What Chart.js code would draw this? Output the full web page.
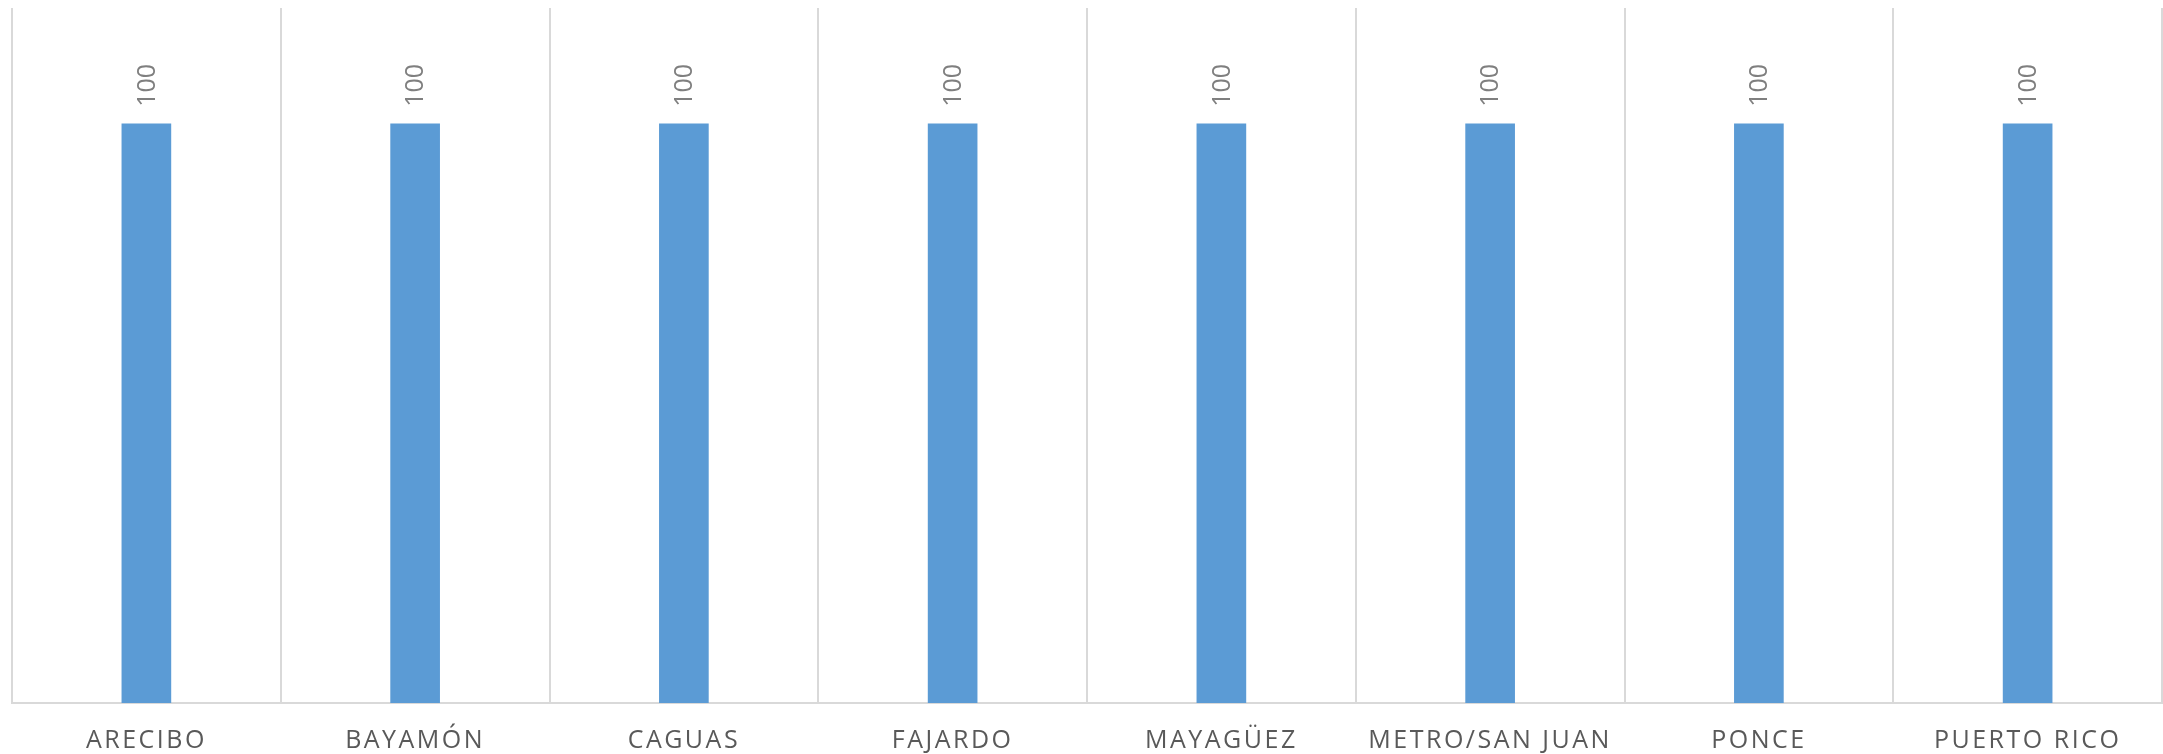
<!DOCTYPE html>
<html>
<head>
<meta charset="utf-8">
<script src="https://cdn.jsdelivr.net/npm/chart.js@4/dist/chart.umd.min.js"></script>
<style>
  html, body { margin: 0; padding: 0; background: #ffffff; }
  #wrap { width: 2163px; height: 754px; position: relative; }
</style>
</head>
<body>
<div id="wrap"><canvas id="c"></canvas></div>
<script>
const categories = ["ARECIBO", "BAYAMÓN", "CAGUAS", "FAJARDO", "MAYAGÜEZ", "METRO/SAN JUAN", "PONCE", "PUERTO RICO"];
const values = [100, 100, 100, 100, 100, 100, 100, 100];
const yMin = 0;
const yMax = 120;

const labelSpacingPlugin = {
  id: 'labelSpacing',
  beforeDraw(chart) {
    chart.ctx.letterSpacing = '2.5px';
  }
};

const valueLabelPlugin = {
  id: 'valueLabels',
  afterDatasetsDraw(chart) {
    const ctx = chart.ctx;
    chart.data.datasets.forEach((ds, di) => {
      const meta = chart.getDatasetMeta(di);
      meta.data.forEach((el, i) => {
        ctx.save();
        ctx.letterSpacing = '0px';
        ctx.translate(el.x, el.y - 17);
        ctx.rotate(-Math.PI / 2);
        ctx.font = '25px "Open Sans"';
        ctx.fillStyle = '#7f7f7f';
        ctx.textAlign = 'left';
        ctx.textBaseline = 'middle';
        ctx.fillText(String(ds.data[i]), 0, 1);
        ctx.restore();
      });
    });
  }
};

new Chart(document.getElementById('c'), {
  type: 'bar',
  data: {
    labels: categories,
    datasets: [{
      data: values,
      backgroundColor: '#5b9bd5',
      borderWidth: 0,
      barThickness: 49
    }]
  },
  options: {
    responsive: true,
    maintainAspectRatio: false,
    animation: false,
    devicePixelRatio: 1,
    layout: { padding: { left: 12, right: 1, top: 8, bottom: 0 } },
    plugins: {
      legend: { display: false },
      tooltip: { enabled: false }
    },
    scales: {
      x: {
        offset: true,
        grid: {
          offset: true,
          color: '#d9d9d9',
          lineWidth: 2,
          drawTicks: false
        },
        border: { color: '#d9d9d9', width: 2 },
        ticks: {
          color: '#595959',
          font: { family: '"Open Sans"', size: 25 },
          padding: 23,
          maxRotation: 0,
          autoSkip: false
        },
        afterFit(scale) { scale.height = 51; }
      },
      y: {
        display: false,
        min: yMin,
        max: yMax
      }
    }
  },
  plugins: [labelSpacingPlugin, valueLabelPlugin]
});
</script>
</body>
</html>
